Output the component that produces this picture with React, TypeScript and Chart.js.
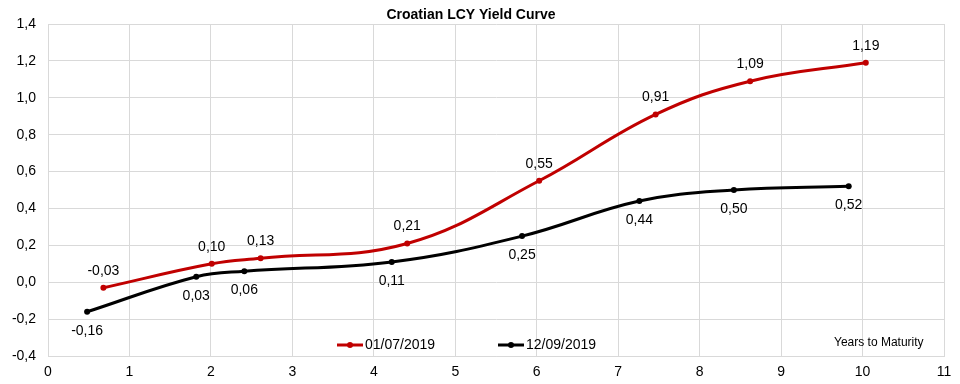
import React, { useEffect, useRef } from "react";
import { Chart, registerables } from "chart.js";
Chart.register(...registerables);

const chartTitle = "Croatian LCY Yield Curve";
const xAxisNote = "Years to Maturity";
const seriesNames = ["01/07/2019", "12/09/2019"];
const seriesColors = ["#c00000", "#000000"];
const julyMaturities = [0.68, 2.01, 2.61, 4.41, 6.03, 7.46, 8.62, 10.04];
const julyYields = [-0.03, 0.1, 0.13, 0.21, 0.55, 0.91, 1.09, 1.19];
const septMaturities = [0.48, 1.82, 2.41, 4.22, 5.82, 7.26, 8.42, 9.83];
const septYields = [-0.16, 0.03, 0.06, 0.11, 0.25, 0.44, 0.5, 0.52];
const xMin = 0;
const xMax = 11;
const yMin = -0.4;
const yMax = 1.4;

const FONT = "'Liberation Sans', Arial, sans-serif";

const fmt2 = (v: number) => v.toFixed(2).replace(".", ",");
const fmt1 = (v: number) => {
  const r = Math.round(v * 10) / 10;
  return (Math.abs(r) < 1e-9 ? 0 : r).toFixed(1).replace(".", ",");
};

const decorPlugin = {
  id: "decor",
  afterDatasetsDraw(chart: any) {
    const ctx = chart.ctx;
    ctx.save();
    ctx.font = `14px ${FONT}`;
    ctx.fillStyle = "#000";
    ctx.textAlign = "center";
    ctx.textBaseline = "middle";
    chart.data.datasets.forEach((ds: any, di: number) => {
      const meta = chart.getDatasetMeta(di);
      meta.data.forEach((el: any, i: number) => {
        const v = ds.data[i].y;
        const dy = di === 0 ? -17 : 19;
        ctx.fillText(fmt2(v), el.x, el.y + dy);
      });
    });
    ctx.restore();
  },
  afterDraw(chart: any) {
    const ctx = chart.ctx;
    ctx.save();
    ctx.font = `bold 14px ${FONT}`;
    ctx.fillStyle = "#000";
    ctx.textAlign = "center";
    ctx.textBaseline = "middle";
    ctx.fillText(chartTitle, 471, 15);
    const legendItems = [
      { x: 337, name: seriesNames[0], color: seriesColors[0] },
      { x: 498, name: seriesNames[1], color: seriesColors[1] },
    ];
    const ly = 345;
    legendItems.forEach((it) => {
      ctx.strokeStyle = it.color;
      ctx.lineWidth = 3;
      ctx.beginPath();
      ctx.moveTo(it.x, ly);
      ctx.lineTo(it.x + 26, ly);
      ctx.stroke();
      ctx.fillStyle = it.color;
      ctx.beginPath();
      ctx.arc(it.x + 13, ly, 3, 0, Math.PI * 2);
      ctx.fill();
      ctx.fillStyle = "#000";
      ctx.font = `14px ${FONT}`;
      ctx.textAlign = "left";
      ctx.fillText(it.name, it.x + 28, ly);
    });
    ctx.font = `12px ${FONT}`;
    ctx.textAlign = "left";
    ctx.fillStyle = "#000";
    ctx.fillText(xAxisNote, 834, 343);
    ctx.restore();
  },
};

export default function App() {
  const ref = useRef<HTMLCanvasElement>(null);
  useEffect(() => {
    const makeData = (xs: number[], ys: number[]) => xs.map((x, i) => ({ x, y: ys[i] }));
    const chart = new Chart(ref.current!, {
      type: "scatter",
      data: {
        datasets: [
          {
            label: seriesNames[0],
            data: makeData(julyMaturities, julyYields),
            showLine: true,
            borderColor: seriesColors[0],
            backgroundColor: seriesColors[0],
            borderWidth: 3,
            pointRadius: 3,
            pointBorderWidth: 0,
            tension: 0.4,
          },
          {
            label: seriesNames[1],
            data: makeData(septMaturities, septYields),
            showLine: true,
            borderColor: seriesColors[1],
            backgroundColor: seriesColors[1],
            borderWidth: 3,
            pointRadius: 3,
            pointBorderWidth: 0,
            tension: 0.4,
          },
        ],
      },
      options: {
        responsive: false,
        animation: false,
        layout: { padding: { left: 0, top: 24, right: 16, bottom: 0 } },
        plugins: {
          legend: { display: false },
          title: { display: false },
          tooltip: { enabled: false },
        },
        scales: {
          x: {
            type: "linear",
            min: xMin,
            max: xMax,
            ticks: {
              stepSize: 1,
              color: "#000",
              font: { family: FONT, size: 14 },
              padding: 8,
            },
            grid: { color: "#d9d9d9", drawTicks: false, lineWidth: 1 },
            border: { color: "#d9d9d9" },
            afterFit: (s: any) => {
              s.height = 28;
            },
          },
          y: {
            type: "linear",
            min: yMin,
            max: yMax,
            ticks: {
              stepSize: 0.2,
              color: "#000",
              font: { family: FONT, size: 14 },
              padding: 12,
              callback: (v: any) => fmt1(Number(v)),
            },
            grid: { color: "#d9d9d9", drawTicks: false, lineWidth: 1 },
            border: { color: "#d9d9d9" },
            afterFit: (s: any) => {
              s.width = 48;
            },
          },
        },
      },
      plugins: [decorPlugin],
    });
    return () => chart.destroy();
  }, []);
  return (
    <div style={{ position: "absolute", left: 0, top: 0, width: 960, height: 384, background: "#fff" }}>
      <canvas ref={ref} width={960} height={384} />
    </div>
  );
}
